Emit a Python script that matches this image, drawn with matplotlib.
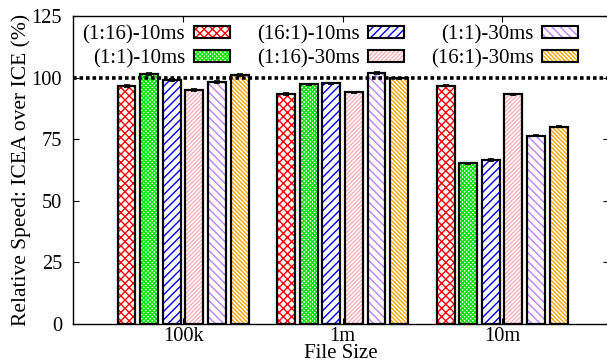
import matplotlib
matplotlib.use("Agg")
import matplotlib.pyplot as plt
import numpy as np
from matplotlib.patches import Patch

plt.rcParams['font.family'] = ['Liberation Serif', 'DejaVu Serif']
plt.rcParams['hatch.linewidth'] = 1.0

# data
groups = ["100k", "1m", "10m"]
series = ["(1:16)-10ms", "(1:1)-10ms", "(16:1)-10ms",
          "(1:16)-30ms", "(1:1)-30ms", "(16:1)-30ms"]
values = [
    [96.6, 93.3, 96.7],    # (1:16)-10ms
    [101.5, 97.3, 65.2],   # (1:1)-10ms
    [99.0, 97.7, 66.7],    # (16:1)-10ms
    [95.0, 94.0, 93.2],    # (1:16)-30ms
    [98.1, 101.7, 76.4],   # (1:1)-30ms
    [101.1, 99.7, 80.1],   # (16:1)-30ms
]
errors = [
    [0.4, 0.4, 0.3],
    [0.4, 0.3, 0.3],
    [0.3, 0.3, 0.4],
    [0.3, 0.3, 0.3],
    [0.4, 0.4, 0.3],
    [0.3, 0.3, 0.3],
]
colors = ["#ff0000", "#00e600", "#0000ff", "#ffb0b8", "#c080ff", "#ffa500"]
# matplotlib spaces diagonal hatch lines 2/(6*n) inch apart
hatches = ["xxxx", "xxxxxxxx", "////", "////////", "\\\\\\\\", "\\\\\\\\\\\\\\\\"]

fig = plt.figure(figsize=(6.07, 3.64), dpi=100)
ax = fig.add_axes([73 / 607, 1 - 324 / 364, (609 - 73) / 607, (324 - 16) / 364])

x = np.arange(len(groups))
stride = 0.1417
width = 0.112
for i, name in enumerate(series):
    pos = x + (i - 2.5) * stride
    ax.bar(pos, values[i], width, color="white", hatch=hatches[i],
           edgecolor=colors[i], linewidth=0, zorder=2)
    ax.bar(pos, values[i], width, fill=False, edgecolor="black",
           linewidth=1.6, zorder=3)
    ax.errorbar(pos, values[i], yerr=errors[i], fmt="none", ecolor="black",
                elinewidth=1, capsize=2.5, capthick=1.2, zorder=4)

ax.axhline(100, color="black", linestyle=(0, (1, 0.8)), linewidth=2.6, zorder=5)

ax.set_xlim(-0.69, 2.67)
ax.set_ylim(0, 125)
ax.set_yticks([0, 25, 50, 75, 100, 125])
ax.set_xticks(x)
ax.set_xticklabels(groups)
ax.tick_params(axis="both", direction="in", labelsize=14.7, length=4,
               top=True, right=True, width=0.8)
ax.tick_params(axis="x", pad=2)
ax.tick_params(axis="y", pad=8)
for s in ax.spines.values():
    s.set_linewidth(1.0)

ax.set_xlabel("File Size", fontsize=15, labelpad=-1)
ax.set_ylabel("Relative Speed: ICEA over ICE (%)", fontsize=15.5, labelpad=0)

handles = []
for i in range(len(series)):
    fillp = Patch(facecolor="white", edgecolor=colors[i], hatch=hatches[i],
                  linewidth=0)
    edgep = Patch(facecolor="none", edgecolor="black", linewidth=1.5)
    handles.append((fillp, edgep))
leg = ax.legend(handles=handles, labels=series, ncol=3, frameon=False,
                markerfirst=False, loc="upper right",
                bbox_to_anchor=(578 / 607, 1 - 25 / 364),
                bbox_transform=fig.transFigure, fontsize=15,
                handlelength=1.73, handleheight=0.53, handletextpad=0.4,
                columnspacing=1.3, labelspacing=0.22, borderpad=0,
                borderaxespad=0)

fig.savefig("out.png", dpi=100)
